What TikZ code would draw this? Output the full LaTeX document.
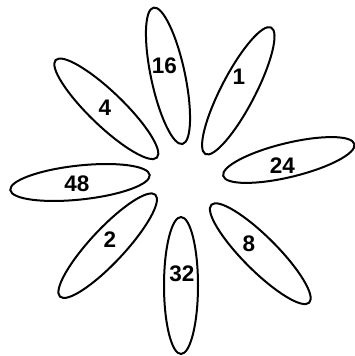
\documentclass[tikz,border=0pt]{standalone}
\usepackage{fontspec}
\setmainfont{Liberation Sans}
\begin{document}
\begin{tikzpicture}[x=1pt,y=1pt,
  petal/.style={draw=black,line width=2pt},
  lbl/.style={font=\fontsize{22.5}{22.5}\selectfont\bfseries,inner sep=0pt,anchor=center}]
\useasboundingbox (0,0) rectangle (355,356);
% petals
\draw[petal,rotate around={102:(168,280.2)}] (168,280.2) ellipse (69.7 and 17);
\draw[petal,rotate around={62.5:(238.3,265.2)}] (238.3,265.2) ellipse (71.3 and 17);
\draw[petal,rotate around={13.6:(288.8,196)}] (288.8,196) ellipse (67.5 and 17);
\draw[petal,rotate around={-45:(260.3,102.3)}] (260.3,102.3) ellipse (69.2 and 17);
\draw[petal,rotate around={90:(181,70.5)}] (181,70.5) ellipse (68.5 and 17);
\draw[petal,rotate around={46.9:(107.7,110.3)}] (107.7,110.3) ellipse (69.8 and 17);
\draw[petal,rotate around={6.1:(80,173.5)}] (80,173.5) ellipse (70.1 and 17);
\draw[petal,rotate around={-43.9:(106.3,247.2)}] (106.3,247.2) ellipse (70.3 and 17);
% labels
\node[lbl] (l16) at (164.5,290) {16};
\node[lbl] (l1) at (239,279) {1};
\node[lbl] (l24) at (282.5,190) {24};
\node[lbl] (l8) at (249,112) {8};
\node[lbl] (l32) at (182,82) {32};
\node[lbl] (l2) at (110,116) {2};
\node[lbl] (l48) at (77,172) {48};
\node[lbl] (l4) at (105,248.5) {4};
\end{tikzpicture}
\end{document}
